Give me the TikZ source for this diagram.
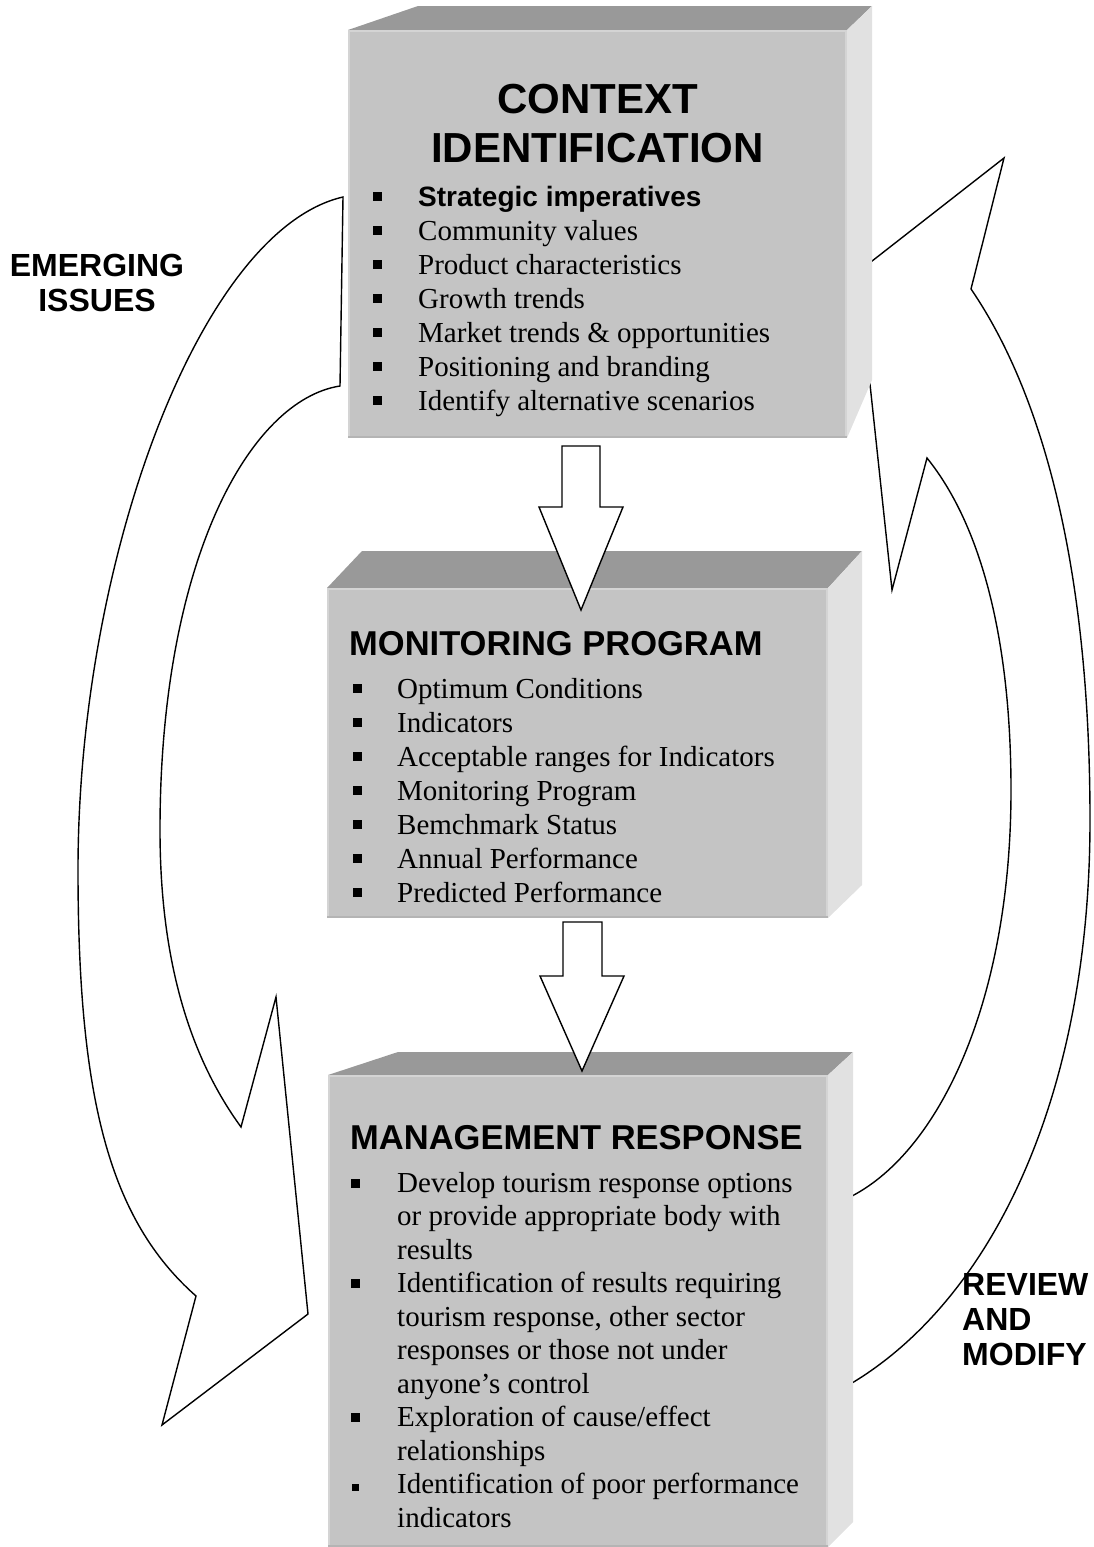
\documentclass[tikz,border=0pt]{standalone}
\usepackage{fontspec}
\setmainfont{Liberation Serif}
\setsansfont{Liberation Sans}
\usetikzlibrary{positioning}
\definecolor{frontgray}{RGB}{196,196,196}
\definecolor{topgray}{RGB}{153,153,153}
\definecolor{sidegray}{RGB}{225,225,225}
\definecolor{lightedge}{RGB}{212,212,212}
\definecolor{darkedge}{RGB}{180,180,180}

% slab: left, right, top, bottom, back-left x, back-right x, back top, side cut
\newcommand{\slab}[8]{%
  \fill[topface] (#1,#3) -- (#5,#7) -- (#6,#7) -- (#2,#3) -- cycle;
  \fill[sideface] (#2,#3) -- (#6,#7) -- (#6,#8) -- (#2,#4) -- cycle;
  \fill[frontface] (#1,#3) rectangle (#2,#4);
  \draw[line width=2pt,lightedge] (#1+1,#4) -- (#1+1,#3+1) -- (#2-1,#3+1) -- (#2-1,#4);
  \draw[line width=2pt,darkedge] (#1,#4-1) -- (#2,#4-1);
}

\begin{document}
\begin{tikzpicture}[x=1pt,y=-1pt,
  frontface/.style={fill=frontgray},
  topface/.style={fill=topgray},
  sideface/.style={fill=sidegray},
  blockarrow/.style={draw=black,fill=white,line width=1.4pt,line join=miter},
  bighead/.style={font=\sffamily\bfseries\fontsize{42}{48}\selectfont,inner sep=0pt,anchor=base},
  boxhead/.style={font=\sffamily\bfseries\fontsize{34.5}{40}\selectfont,inner sep=0pt,anchor=base west},
  item/.style={font=\fontsize{29}{34}\selectfont,inner sep=0pt,anchor=base west},
  sidelabel/.style={font=\sffamily\bfseries\fontsize{32}{35}\selectfont,inner sep=0pt}
]
  \useasboundingbox (0,0) rectangle (1094,1547);

  % curved block arrows (the boxes cover their ends)
  \draw[blockarrow] (343,197) .. controls (200,230) and (78,560) .. (78,870)
    .. controls (78,1100) and (110,1220) .. (196,1296)
    -- (162,1425) -- (308,1314) -- (276,997) -- (241,1127)
    .. controls (185,1050) and (160,950) .. (160,830)
    .. controls (160,560) and (250,400) .. (340,386) -- cycle;
  \draw[blockarrow] (830,1395) -- (852,1383)
    .. controls (990,1300) and (1090,1100) .. (1090,820)
    .. controls (1090,560) and (1040,390) .. (971,289)
    -- (1004,158) -- (858,272) -- (892,590) -- (927,458)
    .. controls (985,530) and (1011,650) .. (1011,790)
    .. controls (1011,1000) and (940,1150) .. (852,1196)
    -- (830,1205) -- cycle;

  % the three boxes
  \slab{348}{847}{30}{438}{418}{872}{6}{380}
  \slab{327}{828}{588}{918}{362}{862}{551}{885}
  \slab{328}{828}{1075}{1547}{398}{853}{1052}{1522}

  % down arrows
  \draw[blockarrow] (562,446) -- (600,446) -- (600,507) -- (623,507) -- (581,610) -- (539,507) -- (562,507) -- cycle;
  \draw[blockarrow] (563,922) -- (602,922) -- (602,976) -- (624,976) -- (582,1071) -- (540,976) -- (563,976) -- cycle;

  % context identification
  \node[bighead] (ctxtitle) at (597.5,113) {CONTEXT};
  \node[bighead] (ctxtitle2) at (597.5,162) {IDENTIFICATION};
  \node[item,font=\sffamily\bfseries\fontsize{28}{34}\selectfont] (ctx0) at (418,206) {Strategic imperatives};
  \fill (373,192) rectangle ++(9,9);
  \foreach \txt [count=\i] in {Community values,Product characteristics,Growth trends,
      Market trends \& opportunities,Positioning and branding,Identify alternative scenarios} {
    \node[item] (ctx\i) at (418,206+34*\i) {\txt};
    \fill (373,192+34*\i) rectangle ++(9,9);
  }

  % monitoring program
  \node[boxhead] (montitle) at (349,655) {MONITORING PROGRAM};
  \foreach \txt [count=\i from 0] in {Optimum Conditions,Indicators,Acceptable ranges for Indicators,
      Monitoring Program,Bemchmark Status,Annual Performance,Predicted Performance} {
    \node[item] (mon\i) at (397,698+34*\i) {\txt};
    \fill (353,684+34*\i) rectangle ++(9,9);
  }

  % management response
  \node[boxhead] (mgmttitle) at (350,1149) {MANAGEMENT RESPONSE};
  \foreach \txt [count=\i from 0] in {Develop tourism response options,or provide appropriate body with,
      results,Identification of results requiring,{tourism response, other sector},
      responses or those not under,anyone’s control,Exploration of cause/effect,relationships,
      Identification of poor performance,indicators} {
    \node[item] (mgmt\i) at (397,1192+33.5*\i) {\txt};
  }
  \foreach \i in {0,3,7} {
    \fill (351,1178.5+33.5*\i) rectangle ++(9,9);
  }
  \fill (352,1484) rectangle ++(7,7);

  % arrow labels
  \node[sidelabel,align=center] (emerging) at (97,283) {EMERGING\\ISSUES};
  \node[sidelabel,align=left,anchor=west] (review) at (962,1320) {REVIEW\\AND\\MODIFY};
\end{tikzpicture}
\end{document}
